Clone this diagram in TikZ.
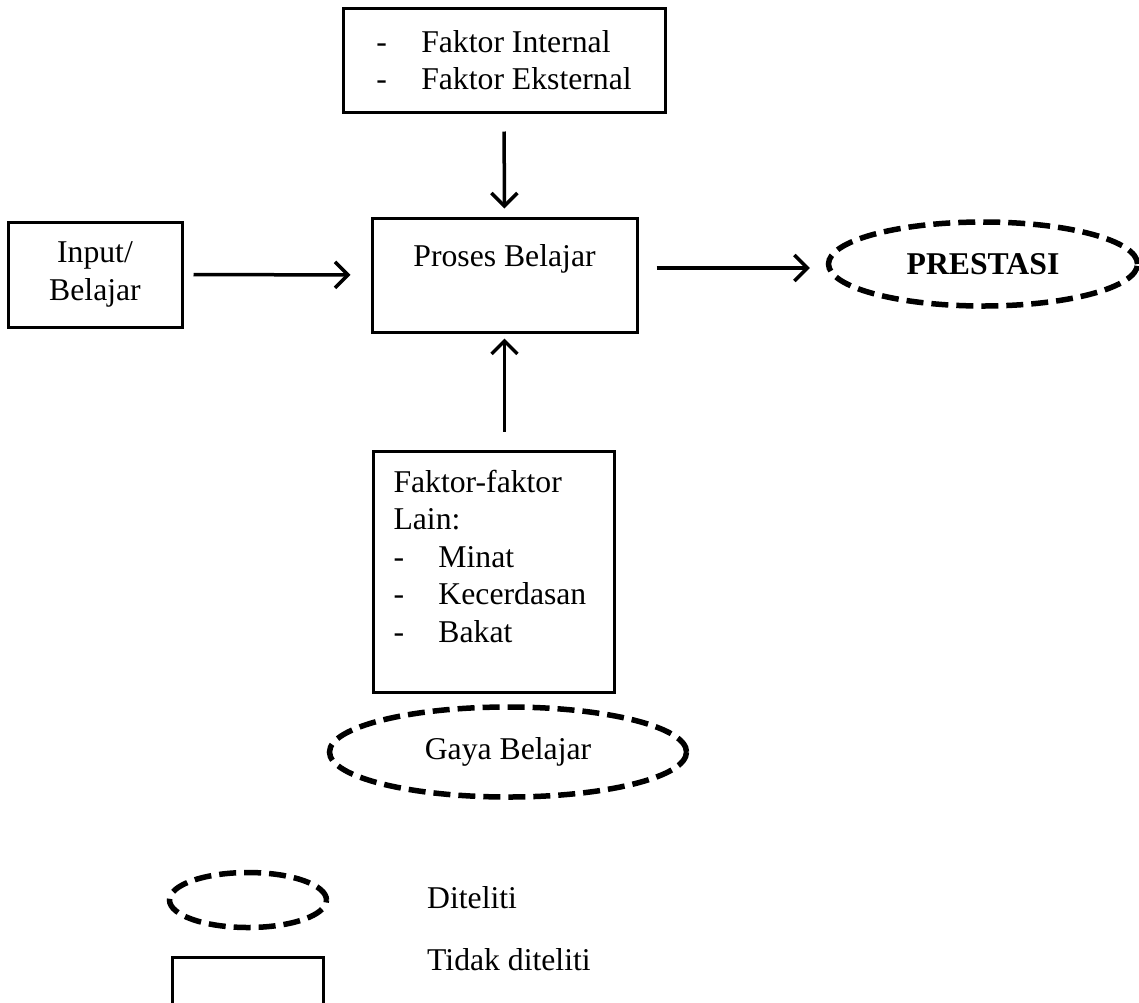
\documentclass[tikz,border=0pt]{standalone}
\usepackage{fontspec}
\setmainfont{Liberation Serif}
\usepackage{tikz}
\usetikzlibrary{shapes.geometric, arrows.meta, positioning, calc}
\definecolor{InkBlack}{HTML}{000000}

\begin{document}
\begin{tikzpicture}[x=1pt, y=-1pt,
    font=\fontsize{31.7}{37.5}\selectfont,
    kotak/.style={draw=InkBlack, line width=3pt, inner sep=0pt},
    diteliti/.style={ellipse, draw=InkBlack, line width=5.5pt,
                     dash pattern=on 17pt off 8pt, inner sep=0pt},
    panah/.style={-{Straight Barb[length=13pt, width=26pt]}, line width=3.5pt}]
\useasboundingbox (0,0) rectangle (1139,1002);

\node[kotak, minimum width=322pt, minimum height=104pt, align=left]
    (faktorluar) at (504,60)
    {\makebox[45pt][l]{-}Faktor Internal\\\makebox[45pt][l]{-}Faktor Eksternal};
\node[kotak, minimum width=174pt, minimum height=105pt, align=center]
    (input) at (95,274.5) {Input/\\Belajar};
\node[kotak, minimum width=265pt, text height=48pt, text depth=66pt]
    (proses) at (504.5,275) {Proses Belajar};
\node[diteliti, minimum width=309pt, minimum height=84pt, font=\fontsize{31.7}{37.5}\selectfont\bfseries]
    (prestasi) at (983,264) {PRESTASI};
\node[kotak, minimum width=241pt, minimum height=241pt, text width=200pt, align=left]
    (faktorlain) at (493.5,571.5)
    {Faktor-faktor\\Lain:\\\makebox[45pt][l]{-}Minat\\\makebox[45pt][l]{-}Kecerdasan\\\makebox[45pt][l]{-}Bakat\\[-7pt]\mbox{}};
\node[diteliti, minimum width=357pt, minimum height=90pt]
    (gaya) at (508,752) {Gaya Belajar};

% keterangan
\node[diteliti, minimum width=157pt, minimum height=55pt] (ketelips) at (248,900) {};
\node[kotak, minimum width=151pt, minimum height=100pt, anchor=north] (ketkotak) at (247.5,956) {};
\node[anchor=west, inner sep=0pt] (ketditeliti) at (427,898) {Diteliti};
\node[anchor=west, inner sep=0pt] (kettidak) at (427,960) {Tidak diteliti};

\draw[panah, shorten <=18pt, shorten >=8pt] (faktorluar.south) -- (proses.north);
\draw[panah, shorten <=10pt, shorten >=20pt] (input.east) -- (proses.west);
\draw[panah, shorten <=18pt, shorten >=16pt] ([yshift=7pt]proses.east) -- ([yshift=7pt]proses.east -| prestasi.west);
\draw[panah, shorten <=18pt, shorten >=5pt] (proses.south |- faktorlain.north) -- (proses.south);
\end{tikzpicture}
\end{document}
